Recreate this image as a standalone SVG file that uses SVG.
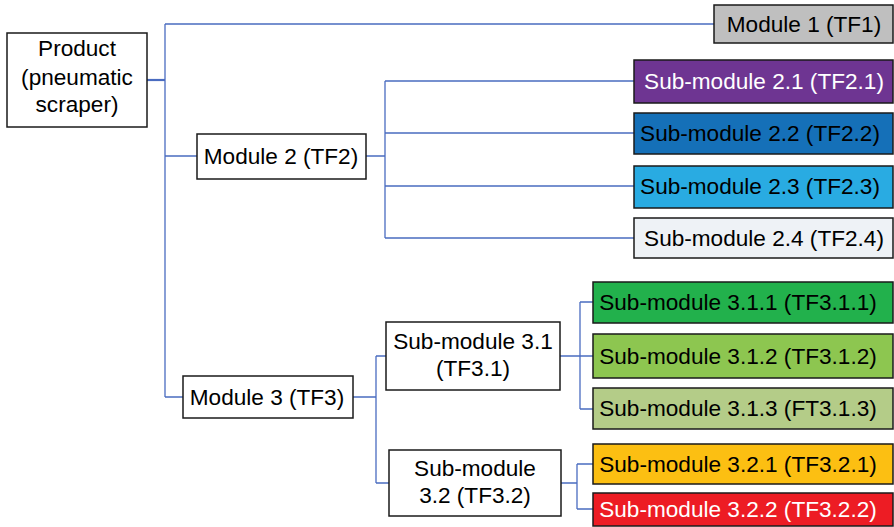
<svg xmlns="http://www.w3.org/2000/svg" width="894" height="527" viewBox="0 0 894 527">
<style>
rect{stroke:#1a1a1a;stroke-width:1.5}
text{font-family:"Liberation Sans",Arial,sans-serif;font-size:22.6px;fill:#000;text-anchor:middle}
.w{fill:#fff}
#connectors path{fill:none;stroke:#4a6cc0;stroke-width:1.3}
</style>
<rect x="0" y="0" width="894" height="527" fill="#fff" style="stroke:none"/>
<g id="connectors">
<path d="M147 80H165M165 24V397M165 24H714M165 156H197M165 397H183" />
<path d="M147 80H165" style="stroke-width:2.2"/>
<path d="M366 156H385M385 81V238M385 81H634M385 133H634M385 186H634M385 238H634"/>
<path d="M353 397H376M376 356V483M376 356H386M376 483H389"/>
<path d="M560 356H580M580 302V409M580 302H593M580 356H593M580 409H593"/>
<path d="M561 483H577M577 464V509M577 464H593M577 509H593"/>
</g>
<g id="product"><rect x="7" y="33" width="140" height="94" fill="#fff"/><text x="77" y="56">Product</text><text x="77" y="85">(pneumatic</text><text x="77" y="112">scraper)</text></g>
<g id="module1"><rect x="714" y="5" width="179" height="38" fill="#bfbfbf"/><text x="804" y="31.5">Module 1 (TF1)</text></g>
<g id="module2"><rect x="197" y="134" width="169" height="45" fill="#fff"/><text x="281" y="164">Module 2 (TF2)</text></g>
<g id="sub21"><rect x="634" y="60" width="259" height="43" fill="#6e3592"/><text class="w" x="764" y="89">Sub-module 2.1 (TF2.1)</text></g>
<g id="sub22"><rect x="634" y="113" width="259" height="41" fill="#1570b8"/><text x="760" y="141">Sub-module 2.2 (TF2.2)</text></g>
<g id="sub23"><rect x="634" y="166" width="259" height="42" fill="#29abe2"/><text x="760" y="194">Sub-module 2.3 (TF2.3)</text></g>
<g id="sub24"><rect x="634" y="218" width="259" height="40" fill="#eef2f6"/><text x="764" y="246">Sub-module 2.4 (TF2.4)</text></g>
<g id="module3"><rect x="183" y="376" width="170" height="42" fill="#fff"/><text x="267" y="405">Module 3 (TF3)</text></g>
<g id="sub31"><rect x="386" y="322" width="174" height="68" fill="#fff"/><text x="473" y="349">Sub-module 3.1</text><text x="473" y="376">(TF3.1)</text></g>
<g id="sub32"><rect x="389" y="450" width="172" height="66" fill="#fff"/><text x="475" y="476">Sub-module</text><text x="475" y="503">3.2 (TF3.2)</text></g>
<g id="sub311"><rect x="593" y="282" width="300" height="41" fill="#22b14c"/><text x="738" y="310">Sub-module 3.1.1 (TF3.1.1)</text></g>
<g id="sub312"><rect x="593" y="334" width="300" height="44" fill="#8dc650"/><text x="738" y="364">Sub-module 3.1.2 (TF3.1.2)</text></g>
<g id="sub313"><rect x="593" y="388" width="300" height="41" fill="#b4cc88"/><text x="738" y="416">Sub-module 3.1.3 (FT3.1.3)</text></g>
<g id="sub321"><rect x="593" y="444" width="300" height="40" fill="#fcbf12"/><text x="738" y="472">Sub-module 3.2.1 (TF3.2.1)</text></g>
<g id="sub322"><rect x="593" y="493" width="300" height="33" fill="#ed1c24"/><text class="w" x="738" y="517">Sub-module 3.2.2 (TF3.2.2)</text></g>
</svg>
